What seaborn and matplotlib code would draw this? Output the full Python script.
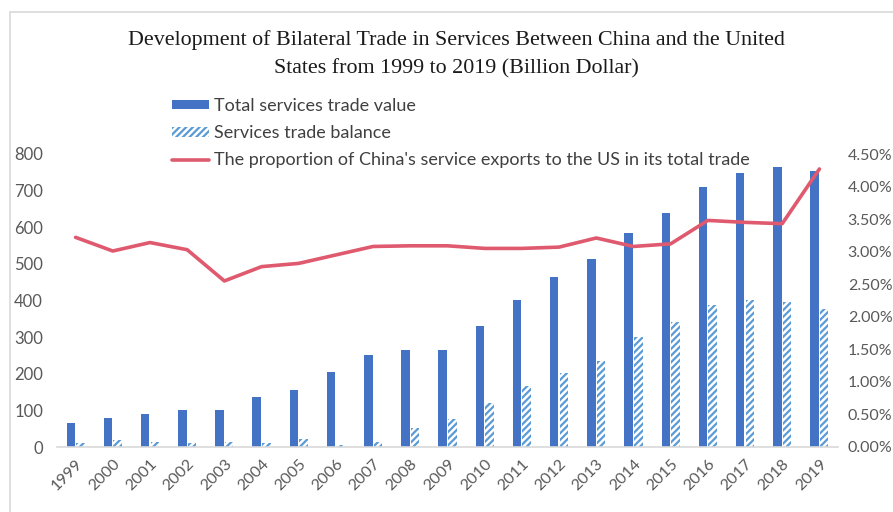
import numpy as np
import pandas as pd
import matplotlib
matplotlib.use("Agg")
import matplotlib.pyplot as plt
import seaborn as sns
from matplotlib.patches import Rectangle, Patch
from matplotlib.lines import Line2D
from matplotlib.ticker import FuncFormatter, MultipleLocator

years = [str(y) for y in range(1999, 2020)]
total_trade = [65, 80, 90, 100, 100, 136, 155, 206, 251, 266, 266,
               331, 401, 463, 513, 583, 638, 709, 749, 764, 754]
trade_balance = [10, 19, 15, 10, 15, 10, 21, 5, 15, 51, 76,
                 121, 167, 201, 236, 301, 342, 388, 402, 395, 377]
export_share = [3.22, 3.01, 3.14, 3.03, 2.55, 2.77, 2.82, 2.95, 3.08, 3.09, 3.09,
                3.05, 3.05, 3.07, 3.21, 3.08, 3.12, 3.48, 3.45, 3.43, 4.27]

label_total = "Total services trade value"
label_balance = "Services trade balance"
label_share = "The proportion of China's service exports to the US in its total trade"
title = ("Development of Bilateral Trade in Services Between China and the United\n"
         "States from 1999 to 2019 (Billion Dollar)")

c_total = "#4472C4"
c_balance = "#5B9BD5"
c_line = "#DF5A6E"
c_tick = "#595959"

sns.set_theme(style="white")
plt.rcParams["font.family"] = ["Lato", "DejaVu Sans"]
plt.rcParams["hatch.linewidth"] = 1.6

df = pd.DataFrame({
    "year": years * 2,
    "value": total_trade + trade_balance,
    "series": [label_total] * len(years) + [label_balance] * len(years),
})

fig = plt.figure(figsize=(8.93, 5.12), dpi=100)
ax = fig.add_axes([57 / 893, 65 / 512, 781 / 893, 293 / 512])

sns.barplot(data=df, x="year", y="value", hue="series",
            hue_order=[label_total, label_balance],
            palette=[c_total, c_balance], width=0.52, gap=0.12,
            dodge=True, legend=False, ax=ax, saturation=1)

n = len(years)
for i, p in enumerate(ax.patches):
    if i >= n:
        p.set_facecolor("white")
        p.set_edgecolor(c_balance)
        p.set_hatch("/////")
        p.set_linewidth(0)
    else:
        p.set_linewidth(0)

ax.set_xlim(-0.5, n - 0.5)
ax.set_ylim(0, 800)
ax.yaxis.set_major_locator(MultipleLocator(100))
ax.set_xlabel("")
ax.set_ylabel("")
for s in ["top", "right", "left"]:
    ax.spines[s].set_visible(False)
ax.spines["bottom"].set_color("#D9D9D9")
ax.spines["bottom"].set_linewidth(1.2)
ax.tick_params(axis="both", length=0, colors=c_tick, labelsize=12)
ax.tick_params(axis="y", pad=10)
for lbl in ax.get_xticklabels():
    lbl.set_rotation(45)
    lbl.set_ha("right")
    lbl.set_rotation_mode("anchor")
    lbl.set_fontsize(11.5)
ax.tick_params(axis="x", pad=7)

ax2 = ax.twinx()
sns.lineplot(x=np.arange(n), y=export_share, ax=ax2, color=c_line,
             linewidth=2.6, legend=False)
ax2.set_ylim(0, 4.5)
ax2.yaxis.set_major_locator(MultipleLocator(0.5))
ax2.yaxis.set_major_formatter(FuncFormatter(lambda v, p: f"{v:.2f}%"))
ax2.tick_params(axis="y", length=0, colors=c_tick, labelsize=11.5, pad=7)
for s in ["top", "right", "left", "bottom"]:
    ax2.spines[s].set_visible(False)
ax2.set_ylabel("")
ax.grid(False)
ax2.grid(False)

handles = [
    Patch(facecolor=c_total, edgecolor=c_total, linewidth=0),
    Patch(facecolor="white", edgecolor=c_balance, hatch="/////", linewidth=0),
    Line2D([0], [0], color=c_line, linewidth=2.6),
]
fig.legend(handles, [label_total, label_balance, label_share],
           loc="upper left", bbox_to_anchor=(172 / 893, 1 - 98 / 512),
           frameon=False, fontsize=13, handlelength=2.05, handleheight=0.45,
           handletextpad=0.25, labelspacing=0.62, borderaxespad=0,
           borderpad=0, labelcolor="#404040")

fig.text(456 / 893, 1 - 54 / 512, title, ha="center", va="center",
         family=["Liberation Serif", "DejaVu Serif"], fontsize=15.8,
         color="#1A1A1A", linespacing=1.6)

fig.patches.append(Rectangle((10 / 893, -0.1), 1.2, 1 - 12 / 512 + 0.1,
                             transform=fig.transFigure, fill=False,
                             edgecolor="#D9D9D9", linewidth=1.2))

fig.savefig("out.png", dpi=100)
